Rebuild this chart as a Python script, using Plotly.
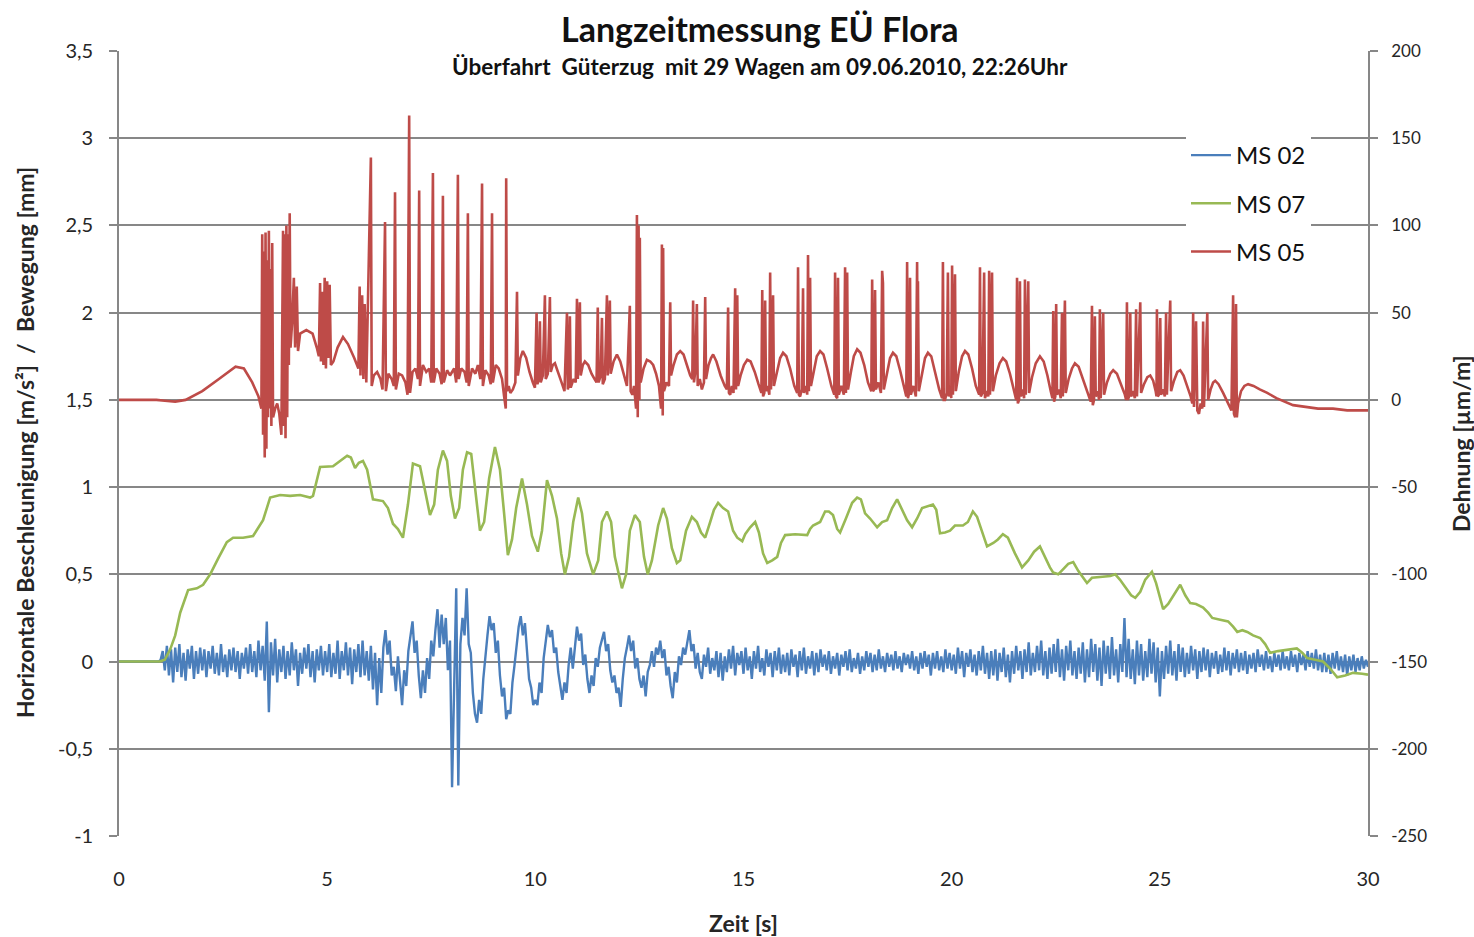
import numpy as np
import plotly.graph_objects as go

# ---------------- data ----------------
# MS 02 - horizontal acceleration [m/s²], sampled every 0.05 s from t = 0 s
ms02_v = [
    0, 0, 0, 0, 0, 0, 0, 0, 0, 0, 0, 0, 0, 0, 0, 0, 0, 0, 0, 0,
    0.01, 0.06, -0.05, 0.09, -0.08, 0.07, -0.12, 0.08, -0.06, 0.10, -0.09, 0.05, -0.11, 0.07, -0.04, 0.09, -0.10, 0.06, -0.07, 0.08,
    -0.05, 0.07, -0.09, 0.06, -0.04, 0.09, -0.07, 0.05, -0.08, 0.10, -0.06, 0.04, -0.09, 0.07, -0.05, 0.08, -0.06, 0.06, -0.10, 0.05,
    -0.04, 0.08, -0.07, 0.10, -0.06, 0.06, -0.09, 0.12, -0.05, 0.09, -0.11, 0.23, -0.29, 0.11, -0.08, 0.13, -0.12, 0.07, -0.06, 0.09,
    -0.10, 0.06, -0.08, 0.11, -0.05, 0.07, -0.14, 0.05, -0.07, 0.08, -0.04, 0.10, -0.09, 0.06, -0.12, 0.07, -0.05, 0.09, -0.08, 0.06,
    -0.06, 0.10, -0.09, 0.05, -0.07, 0.12, -0.10, 0.06, -0.05, 0.11, -0.08, 0.08, -0.13, 0.07, -0.06, 0.10, -0.09, 0.12, -0.08, 0.06,
    -0.11, 0.09, -0.16, 0.05, -0.25, 0.02, -0.18, 0.08, 0.18, 0.04, 0.12, -0.08, -0.03, -0.17, 0.03, -0.12, -0.25, -0.05, -0.14, 0.06,
    0.15, 0.23, 0.05, 0.12, -0.08, -0.21, -0.05, -0.18, 0.02, -0.10, 0.12, 0.03, 0.18, 0.30, 0.08, 0.27, 0.10, 0.25, -0.05, 0.12,
    -0.72, -0.10, 0.42, -0.71, 0.10, 0.25, 0.15, 0.42, 0.10, 0.05, -0.18, -0.30, -0.35, -0.22, -0.30, -0.10, 0.05, 0.15, 0.26, 0.18,
    0.22, 0.05, 0.12, -0.08, -0.20, -0.15, -0.33, -0.28, -0.30, -0.12, -0.02, 0.10, 0.20, 0.26, 0.15, 0.22, 0.05, -0.10, -0.15, -0.25,
    -0.22, -0.25, -0.12, -0.18, 0.02, 0.12, 0.21, 0.14, 0.18, 0.05, 0.08, -0.06, -0.15, -0.22, -0.12, -0.18, -0.02, 0.08, -0.04, 0.10,
    0.20, 0.12, 0.16, -0.02, 0.04, -0.10, -0.18, -0.08, -0.14, 0.02, -0.03, 0.08, 0.12, 0.17, 0.06, 0.10, -0.05, -0.12, -0.08, -0.18,
    -0.15, -0.26, -0.10, 0.02, 0.08, 0.15, 0.06, 0.12, -0.04, 0.02, -0.10, -0.15, -0.08, -0.20, -0.06, -0.02, 0.06, -0.03, 0.08, 0.04,
    0.12, 0.02, 0.07, -0.08, -0.03, -0.14, -0.21, -0.06, -0.12, 0.03, -0.02, 0.08, 0.04, 0.11, 0.18, 0.06, 0.10, -0.04, 0.05, -0.06,
    -0.10, 0.04, -0.03, 0.08, -0.07, 0.02, -0.05, 0.06, -0.09, 0.05, -0.11, 0.03, -0.06, 0.07, -0.04, 0.09, -0.08, 0.05, -0.02, 0.06,
    -0.07, 0.08, -0.05, 0.03, -0.10, 0.06, -0.04, 0.09, -0.06, 0.02, -0.08, 0.07, -0.03, 0.05, -0.09, 0.06, -0.05, 0.08, -0.07, 0.04,
    -0.06, 0.05, -0.08, 0.07, -0.03, 0.04, -0.09, 0.06, -0.05, 0.08, -0.07, 0.03, -0.04, 0.06, -0.08, 0.05, -0.06, 0.07, -0.03, 0.04,
    -0.05, 0.06, -0.07, 0.03, -0.04, 0.05, -0.08, 0.04, -0.03, 0.06, -0.05, 0.07, -0.06, 0.02, -0.04, 0.05, -0.07, 0.03, -0.05, 0.06,
    -0.03, 0.05, -0.06, 0.04, -0.05, 0.07, -0.04, 0.03, -0.06, 0.05, -0.03, 0.04, -0.05, 0.06, -0.04, 0.03, -0.06, 0.05, -0.02, 0.04,
    -0.04, 0.06, -0.05, 0.03, -0.07, 0.05, -0.04, 0.06, -0.03, 0.04, -0.08, 0.05, -0.04, 0.06, -0.05, 0.03, -0.06, 0.07, -0.04, 0.05,
    -0.05, 0.04, -0.07, 0.08, -0.04, 0.06, -0.09, 0.05, -0.03, 0.07, -0.06, 0.04, -0.08, 0.06, -0.05, 0.09, -0.07, 0.05, -0.10, 0.06,
    -0.08, 0.07, -0.11, 0.05, -0.06, 0.08, -0.09, 0.04, -0.12, 0.06, -0.07, 0.09, -0.05, 0.06, -0.10, 0.07, -0.06, 0.11, -0.08, 0.05,
    -0.06, 0.09, -0.05, 0.12, -0.08, 0.06, -0.10, 0.08, -0.07, 0.10, -0.06, 0.13, -0.09, 0.07, -0.11, 0.09, -0.05, 0.12, -0.08, 0.06,
    -0.10, 0.08, -0.07, 0.11, -0.12, 0.07, -0.09, 0.13, -0.06, 0.10, -0.11, 0.08, -0.14, 0.12, -0.07, 0.09, -0.10, 0.14, -0.08, 0.07,
    -0.12, 0.10, -0.06, 0.25, -0.09, 0.13, -0.10, 0.07, -0.13, 0.12, -0.08, 0.10, -0.11, 0.06, -0.09, 0.13, -0.07, 0.11, -0.12, 0.08,
    -0.20, 0.06, -0.10, 0.09, -0.07, 0.12, -0.08, 0.06, -0.11, 0.10, -0.06, 0.08, -0.09, 0.05, -0.07, 0.09, -0.05, 0.07, -0.10, 0.06,
    -0.06, 0.08, -0.05, 0.07, -0.09, 0.05, -0.04, 0.06, -0.07, 0.04, -0.06, 0.08, -0.05, 0.06, -0.08, 0.05, -0.04, 0.07, -0.06, 0.05,
    -0.05, 0.06, -0.07, 0.04, -0.04, 0.05, -0.06, 0.07, -0.03, 0.04, -0.05, 0.06, -0.04, 0.03, -0.06, 0.05, -0.03, 0.04, -0.05, 0.06,
    -0.04, 0.03, -0.05, 0.06, -0.03, 0.04, -0.06, 0.05, -0.02, 0.04, -0.05, 0.06, -0.03, 0.05, -0.04, 0.07, -0.05, 0.04, -0.06, 0.05,
    -0.06, 0.04, -0.07, 0.05, -0.04, 0.06, -0.05, 0.03, -0.06, 0.04, -0.08, 0.03, -0.05, 0.04, -0.06, 0.02, -0.05, 0.03, -0.04, 0.01,
    -0.03,
]
ms02_dt = 0.05

# MS 07 - movement [mm]
ms07_t = [
    0, 0.5, 0.98, 1.10, 1.23, 1.35, 1.47, 1.66, 1.87, 2.02, 2.19, 2.38, 2.59, 2.74, 2.98, 3.22, 3.46, 3.63, 3.87, 4.11,
    4.35, 4.59, 4.66, 4.83, 5.14, 5.31, 5.48, 5.57, 5.67, 5.76, 5.86, 5.96, 6.10, 6.34, 6.46, 6.58, 6.70, 6.82, 6.94, 7.06,
    7.23, 7.35, 7.47, 7.57, 7.66, 7.78, 7.88, 7.97, 8.07, 8.17, 8.26, 8.36, 8.46, 8.55, 8.67, 8.77, 8.89, 9.03, 9.15, 9.25,
    9.34, 9.44, 9.54, 9.68, 9.80, 9.92, 10.06, 10.16, 10.28, 10.40, 10.52, 10.62, 10.71, 10.81, 10.91, 11.03, 11.12, 11.24, 11.39, 11.51,
    11.60, 11.72, 11.82, 11.91, 12.08, 12.18, 12.27, 12.39, 12.51, 12.61, 12.70, 12.80, 12.95, 13.07, 13.16, 13.28, 13.40, 13.48, 13.62, 13.76,
    13.88, 13.98, 14.08, 14.20, 14.29, 14.39, 14.51, 14.63, 14.75, 14.85, 14.97, 15.04, 15.16, 15.28, 15.37, 15.47, 15.57, 15.69, 15.81, 15.90,
    16.00, 16.24, 16.53, 16.60, 16.67, 16.84, 16.96, 17.05, 17.15, 17.25, 17.32, 17.46, 17.61, 17.73, 17.82, 17.92, 18.04, 18.21, 18.33, 18.45,
    18.57, 18.69, 18.81, 18.93, 19.05, 19.17, 19.29, 19.43, 19.55, 19.63, 19.72, 19.84, 19.96, 20.08, 20.27, 20.39, 20.51, 20.61, 20.71, 20.85,
    21.00, 21.11, 21.23, 21.35, 21.52, 21.69, 21.84, 21.98, 22.12, 22.24, 22.36, 22.44, 22.56, 22.68, 22.80, 22.92, 23.04, 23.16, 23.25, 23.37,
    23.57, 23.81, 23.93, 24.04, 24.19, 24.31, 24.41, 24.53, 24.65, 24.81, 24.91, 25.01, 25.08, 25.20, 25.34, 25.49, 25.61, 25.73, 25.87, 26.04,
    26.16, 26.26, 26.45, 26.64, 26.76, 26.86, 26.98, 27.10, 27.24, 27.41, 27.53, 27.65, 27.84, 28.01, 28.18, 28.29, 28.42, 28.54, 28.73, 28.92,
    29.09, 29.26, 29.45, 29.64, 29.86, 30.00,
]
ms07_v = [
    0, 0, 0, 0.01, 0.07, 0.15, 0.28, 0.41, 0.42, 0.44, 0.50, 0.59, 0.685, 0.71, 0.71, 0.72, 0.81, 0.94, 0.955, 0.95,
    0.955, 0.94, 0.95, 1.115, 1.12, 1.15, 1.18, 1.17, 1.11, 1.14, 1.15, 1.10, 0.93, 0.92, 0.88, 0.79, 0.76, 0.71, 0.90, 1.135,
    1.12, 0.98, 0.84, 0.90, 1.10, 1.21, 1.15, 0.95, 0.82, 0.88, 1.10, 1.20, 1.19, 1.00, 0.75, 0.80, 1.05, 1.23, 1.10, 0.85,
    0.61, 0.70, 0.88, 1.05, 0.90, 0.72, 0.63, 0.75, 1.04, 0.95, 0.82, 0.62, 0.50, 0.60, 0.80, 0.94, 0.85, 0.62, 0.50, 0.58,
    0.80, 0.86, 0.80, 0.60, 0.42, 0.50, 0.75, 0.84, 0.80, 0.60, 0.50, 0.58, 0.78, 0.88, 0.82, 0.65, 0.565, 0.58, 0.75, 0.83,
    0.80, 0.74, 0.71, 0.80, 0.87, 0.91, 0.88, 0.86, 0.75, 0.71, 0.69, 0.73, 0.77, 0.80, 0.74, 0.62, 0.565, 0.58, 0.60, 0.68,
    0.725, 0.73, 0.725, 0.76, 0.78, 0.80, 0.86, 0.86, 0.84, 0.76, 0.74, 0.82, 0.91, 0.94, 0.93, 0.85, 0.82, 0.77, 0.80, 0.81,
    0.88, 0.93, 0.87, 0.81, 0.77, 0.82, 0.88, 0.89, 0.90, 0.87, 0.735, 0.74, 0.75, 0.78, 0.78, 0.80, 0.86, 0.83, 0.76, 0.66,
    0.68, 0.70, 0.73, 0.71, 0.62, 0.54, 0.58, 0.63, 0.66, 0.60, 0.54, 0.51, 0.50, 0.53, 0.56, 0.57, 0.52, 0.48, 0.45, 0.48,
    0.485, 0.49, 0.50, 0.47, 0.42, 0.38, 0.365, 0.40, 0.47, 0.515, 0.45, 0.36, 0.30, 0.33, 0.38, 0.44, 0.38, 0.335, 0.33, 0.31,
    0.28, 0.25, 0.24, 0.23, 0.20, 0.17, 0.18, 0.17, 0.15, 0.135, 0.10, 0.05, 0.06, 0.065, 0.07, 0.075, 0.05, 0.02, 0.01, 0.0,
    -0.04, -0.09, -0.08, -0.065, -0.07, -0.075,
]

# MS 05 - strain [µm/m]
ms05_t = [
    0, 0.9, 1.1, 1.35, 1.6, 2.0, 2.4, 2.8, 3.0, 3.2, 3.35, 3.42,
    3.44, 3.46, 3.48, 3.50, 3.52, 3.54, 3.56, 3.58, 3.60, 3.62, 3.64, 3.66, 3.68, 3.70, 3.75, 3.80, 3.85, 3.90,
    3.94, 3.96, 3.98, 4.00, 4.02, 4.04, 4.06, 4.08, 4.10, 4.12, 4.16, 4.20, 4.23, 4.27, 4.30,
    4.35, 4.5, 4.65, 4.75, 4.80, 4.83, 4.85, 4.88, 4.91, 4.94, 4.97, 5.00, 5.03, 5.06, 5.09, 5.15, 5.25, 5.38, 5.5, 5.65, 5.75,
    5.78, 5.80, 5.84, 5.87, 5.90, 5.94,
    6.05, 6.07, 6.12, 6.2, 6.28, 6.33, 6.39, 6.41, 6.47, 6.55, 6.6,
    6.63, 6.65, 6.72, 6.8, 6.88, 6.93, 6.97, 6.99, 7.05, 7.12, 7.18,
    7.21, 7.23, 7.3, 7.38, 7.45, 7.5, 7.54, 7.56, 7.62, 7.7, 7.75,
    7.78, 7.80, 7.88, 7.95, 8.05, 8.1, 8.14, 8.16, 8.22, 8.3, 8.35,
    8.38, 8.40, 8.48, 8.56, 8.62, 8.68, 8.72, 8.74, 8.8, 8.88, 8.93,
    8.96, 8.98, 9.05, 9.12, 9.2, 9.25, 9.29, 9.30, 9.32, 9.36,
    9.40, 9.46, 9.52, 9.56, 9.58, 9.64, 9.70, 9.78, 9.86, 9.94, 9.99,
    10.03, 10.05, 10.08, 10.11, 10.13, 10.18, 10.23, 10.25, 10.30, 10.35, 10.37, 10.42, 10.47, 10.55, 10.63, 10.70,
    10.76, 10.78, 10.80, 10.83, 10.85, 10.92, 10.97, 11.00, 11.02, 11.07, 11.09, 11.14, 11.19, 11.27, 11.35, 11.42, 11.47,
    11.50, 11.52, 11.57, 11.60, 11.62, 11.67, 11.72, 11.74, 11.79, 11.81, 11.88, 11.96, 12.04, 12.12, 12.20,
    12.27, 12.29, 12.33, 12.37, 12.42, 12.44, 12.46, 12.48, 12.50, 12.51, 12.53, 12.60, 12.68, 12.76, 12.83, 12.90, 12.97,
    13.02, 13.04, 13.06, 13.07, 13.09, 13.15, 13.21, 13.24, 13.26, 13.32, 13.40, 13.48, 13.56, 13.64, 13.72, 13.77,
    13.79, 13.81, 13.84, 13.88, 13.90, 13.95, 14.00, 14.05, 14.08, 14.10, 14.16, 14.22, 14.27, 14.35, 14.45, 14.55, 14.60,
    14.63, 14.65, 14.68, 14.72, 14.76, 14.80, 14.82, 14.85, 14.87, 14.93, 15.01, 15.09, 15.17, 15.27, 15.36, 15.43,
    15.45, 15.47, 15.50, 15.52, 15.54, 15.58, 15.62, 15.64, 15.66, 15.71, 15.73, 15.80, 15.88, 15.95, 16.03, 16.12, 16.22, 16.29,
    16.31, 16.33, 16.36, 16.40, 16.43, 16.45, 16.50, 16.53, 16.55, 16.57, 16.60, 16.62, 16.68, 16.76, 16.84, 16.92, 17.01, 17.11, 17.18,
    17.20, 17.22, 17.25, 17.27, 17.29, 17.35, 17.41, 17.44, 17.46, 17.49, 17.51, 17.58, 17.65, 17.73, 17.81, 17.90, 17.99, 18.07,
    18.09, 18.11, 18.14, 18.16, 18.18, 18.24, 18.30, 18.33, 18.35, 18.37, 18.44, 18.52, 18.59, 18.67, 18.76, 18.85, 18.91,
    18.93, 18.95, 18.98, 19.00, 19.02, 19.08, 19.14, 19.17, 19.18, 19.19, 19.21, 19.28, 19.36, 19.43, 19.51, 19.60, 19.70, 19.77,
    19.79, 19.81, 19.84, 19.88, 19.91, 19.93, 19.97, 19.99, 20.01, 20.03, 20.08, 20.10, 20.17, 20.25, 20.32, 20.40, 20.49, 20.58, 20.66,
    20.68, 20.70, 20.74, 20.78, 20.80, 20.85, 20.88, 20.90, 20.92, 20.97, 20.99, 21.06, 21.15, 21.23, 21.31, 21.40, 21.49, 21.55,
    21.57, 21.59, 21.62, 21.64, 21.66, 21.70, 21.74, 21.76, 21.78, 21.84, 21.86, 21.93, 22.02, 22.12, 22.21, 22.30, 22.38, 22.42,
    22.44, 22.46, 22.49, 22.51, 22.53, 22.58, 22.62, 22.65, 22.67, 22.72, 22.74, 22.81, 22.89, 22.96, 23.05, 23.15, 23.27, 23.34,
    23.37, 23.39, 23.42, 23.44, 23.46, 23.51, 23.54, 23.56, 23.58, 23.64, 23.66, 23.73, 23.81, 23.88, 23.97, 24.07, 24.16, 24.19,
    24.21, 24.23, 24.26, 24.29, 24.31, 24.36, 24.40, 24.43, 24.45, 24.53, 24.55, 24.62, 24.70, 24.77, 24.84, 24.90, 24.92,
    24.93, 24.95, 24.98, 25.01, 25.03, 25.08, 25.12, 25.15, 25.17, 25.25, 25.27, 25.34, 25.42, 25.49, 25.57, 25.66, 25.74, 25.78,
    25.80, 25.82, 25.87, 25.90, 25.94, 25.98, 26.02, 26.04, 26.06, 26.14, 26.16, 26.22, 26.28, 26.33, 26.41, 26.52, 26.63, 26.72,
    26.76, 26.78, 26.81, 26.83, 26.85, 26.88, 26.95, 27.03, 27.12, 27.25, 27.40, 27.58, 27.80, 28.00, 28.20, 28.50, 28.80, 29.16,
    29.50, 30.00,
]
ms05_v = [
    0, 0, -0.5, -1, 0, 5, 12, 19, 18, 10, 2, -5,
    95, -20, 85, -33, 96, -28, 80, -10, 97, -5, 75, -15, 90, -10, -5, -2, -8, -20,
    97, -15, 95, -22, 100, -10, 95, 20, 107, 30, 45, 70, 30, 65, 28,
    38, 40, 38, 30, 25, 67, 22, 62, 20, 70, 18, 68, 24, 66, 20, 22, 30, 36, 32, 24, 18,
    65, 14, 60, 12, 55, 10,
    139, 8, 14, 16, 12, 6, 102, 5, 15, 12, 8,
    119, 6, 15, 14, 10, 3, 163, 4, 16, 18, 12,
    120, 8, 20, 16, 18, 10, 130, 10, 18, 15, 9,
    117, 10, 17, 14, 18, 10, 129, 12, 18, 16, 10,
    107, 8, 18, 15, 20, 12, 124, 8, 17, 14, 9,
    107, 10, 20, 18, 12, 2, -5, 127, 5, 8,
    4, 6, 10, 62, 14, 24, 28, 24, 16, 10, 7,
    50, 9, 12, 45, 10, 14, 60, 12, 15, 59, 16, 20, 21, 16, 10, 5,
    50, 6, 8, 48, 7, 12, 10, 58, 12, 56, 14, 20, 22, 20, 15, 12, 10,
    53, 10, 14, 47, 9, 12, 60, 14, 57, 15, 22, 26, 22, 15, 8,
    54, 5, 3, 8, -5, 106, -10, 100, 0, 93, 10, 18, 23, 22, 20, 15, 8,
    -5, 89, -9, 87, 5, 10, 8, 56, 14, 20, 26, 28, 26, 20, 14, 12,
    57, 10, 16, 55, 8, 12, 6, 10, 59, 12, 20, 24, 26, 22, 14, 8, 6,
    53, 4, 3, 8, 4, 64, 6, 60, 8, 14, 20, 23, 22, 16, 9, 4,
    63, 2, 4, 57, 5, 8, 3, 73, 6, 60, 8, 16, 24, 27, 25, 18, 8, 4,
    76, 3, 2, 6, 64, 4, 8, 3, 83, 5, 70, 8, 16, 25, 28, 26, 18, 8, 3,
    73, 2, 1, 70, 3, 8, 3, 76, 4, 73, 6, 16, 25, 29, 27, 20, 10, 5,
    69, 5, 6, 63, 6, 10, 4, 74, 67, 6, 15, 24, 27, 25, 17, 8, 2,
    79, 1, 4, 70, 3, 8, 2, 79, 30, 68, 5, 15, 24, 27, 25, 16, 6, 1,
    79, 0, 0, 4, 73, 2, 6, 1, 77, 3, 72, 5, 16, 25, 28, 26, 18, 8, 3,
    76, 2, 4, 73, 1, 5, 2, 74, 3, 73, 5, 14, 21, 24, 22, 15, 6, 0,
    70, -2, 0, 68, 2, 6, 1, 69, 3, 68, 4, 13, 21, 25, 22, 14, 5, 1,
    51, -1, 2, 55, 3, 6, 1, 50, 2, 57, 4, 12, 18, 21, 19, 12, 3, -1,
    54, -3, 0, 48, 2, 5, 0, 52, 1, 50, 3, 10, 15, 17, 15, 9, 3, 0,
    56, 0, 2, 50, 2, 5, 1, 52, 2, 56, 4, 9, 13, 14, 11, 5, 2,
    52, 2, 3, 47, 3, 6, 2, 50, 3, 57, 5, 11, 16, 17, 14, 8, 2, -2,
    50, -4, 45, -6, -8, -2, -5, 45, -4, 50, 0, 6, 10, 11, 9, 4, -2, -6,
    60, -8, -10, 55, -10, -2, 5, 8, 9, 8, 6, 4, 1, -1, -3, -4, -5, -5,
    -6, -6,
]

# axis tick labels (hyphen minus, decimal comma)
y_left_ticks = [-1, -0.5, 0, 0.5, 1, 1.5, 2, 2.5, 3, 3.5]
y_left_labels = ["-1", "-0,5", "0", "0,5", "1", "1,5", "2", "2,5", "3", "3,5"]
y_right_ticks = [-250, -200, -150, -100, -50, 0, 50, 100, 150, 200]
y_right_labels = ["-250", "-200", "-150", "-100", "-50", "0", "50", "100", "150", "200"]
x_ticks = [0, 5, 10, 15, 20, 25, 30]

# ---------------- style ----------------
COL_MS02 = "#4A7EBB"
COL_MS07 = "#98B954"
COL_MS05 = "#BE4B48"
GRID = "#878787"
FONT = "Lato"
TXT = "#262626"

ms02_t = np.arange(len(ms02_v)) * ms02_dt

fig = go.Figure()
fig.add_trace(go.Scatter(x=ms02_t, y=ms02_v, name="MS 02", mode="lines", legendgroup="a",
                         line=dict(color=COL_MS02, width=2.4)))
fig.add_trace(go.Scatter(x=ms07_t, y=ms07_v, name="MS 07", mode="lines", legendgroup="b",
                         line=dict(color=COL_MS07, width=2.6)))
fig.add_trace(go.Scatter(x=ms05_t, y=ms05_v, name="MS 05", mode="lines", yaxis="y2",
                         legendgroup="c", line=dict(color=COL_MS05, width=2.6)))

# plot area in pixels: x 119..1368, y 51..836
L, R, T, B = 119, 1368, 51, 836
W, H = 1474, 937


def px_x(p):
    return (p - L) / (R - L)


def px_y(p):
    return (B - p) / (B - T)


fig.update_layout(
    width=W, height=H,
    margin=dict(l=L, r=W - R, t=T, b=H - B, pad=0),
    paper_bgcolor="white", plot_bgcolor="white",
    font=dict(family=FONT, color=TXT),
    showlegend=True,
    legend=dict(
        x=px_x(1186), y=px_y(133), xanchor="left", yanchor="top",
        bgcolor="white", borderwidth=0,
        font=dict(size=24, family=FONT, color="#111111"),
        traceorder="grouped", tracegroupgap=14, itemwidth=40,
    ),
    xaxis=dict(
        range=[0, 30], tickvals=x_ticks, showgrid=False, zeroline=False,
        showline=False, ticks="", ticklabelstandoff=29,
        tickfont=dict(size=20, family=FONT, color=TXT),
    ),
    yaxis=dict(
        range=[-1, 3.5], tickvals=y_left_ticks, ticktext=y_left_labels,
        showgrid=True, gridcolor=GRID, gridwidth=1.6,
        zeroline=False, showline=True, linecolor=GRID, linewidth=1.6,
        ticks="outside", ticklen=8, tickcolor=GRID, tickwidth=1.6, ticklabelstandoff=12,
        tickfont=dict(size=20, family=FONT, color=TXT),
    ),
    yaxis2=dict(
        range=[-250, 200], tickvals=y_right_ticks, ticktext=y_right_labels,
        overlaying="y", side="right",
        showgrid=False, zeroline=False, showline=True, linecolor=GRID, linewidth=1.6,
        ticks="outside", ticklen=8, tickcolor=GRID, tickwidth=1.6, ticklabelstandoff=10,
        tickfont=dict(size=17, family=FONT, color=TXT),
    ),
    shapes=[
        # white panel behind the title block (interrupts the top grid line)
        dict(type="rect", xref="paper", yref="paper", layer="above",
             x0=px_x(433), x1=px_x(1086), y0=px_y(80), y1=px_y(40),
             fillcolor="white", line=dict(width=0)),
    ],
    annotations=[
        dict(text="<b>Langzeitmessung EÜ Flora</b>", xref="paper", yref="paper",
             x=px_x(760), y=px_y(28), xanchor="center", yanchor="middle", showarrow=False,
             font=dict(size=34, family=FONT, color="#111111")),
        dict(text="<b>Überfahrt  Güterzug  mit 29 Wagen am 09.06.2010, 22:26Uhr</b>",
             xref="paper", yref="paper", x=px_x(760), y=px_y(66),
             xanchor="center", yanchor="middle", showarrow=False,
             font=dict(size=22.5, family=FONT, color="#111111")),
        dict(text="<b>Zeit [s]</b>", xref="paper", yref="paper",
             x=px_x(743), y=px_y(923), xanchor="center", yanchor="middle", showarrow=False,
             font=dict(size=23, family=FONT, color=TXT)),
        dict(text="<b>Horizontale Beschleunigung [m/s²]  /  Bewegung [mm]</b>",
             xref="paper", yref="paper", x=px_x(25), y=px_y(443),
             xanchor="center", yanchor="middle", textangle=-90, showarrow=False,
             font=dict(size=23, family=FONT, color=TXT)),
        dict(text="<b>Dehnung [µm/m]</b>", xref="paper", yref="paper",
             x=px_x(1461), y=px_y(444), xanchor="center", yanchor="middle",
             textangle=-90, showarrow=False,
             font=dict(size=23, family=FONT, color=TXT)),
    ],
)

fig.write_html("out.html")
